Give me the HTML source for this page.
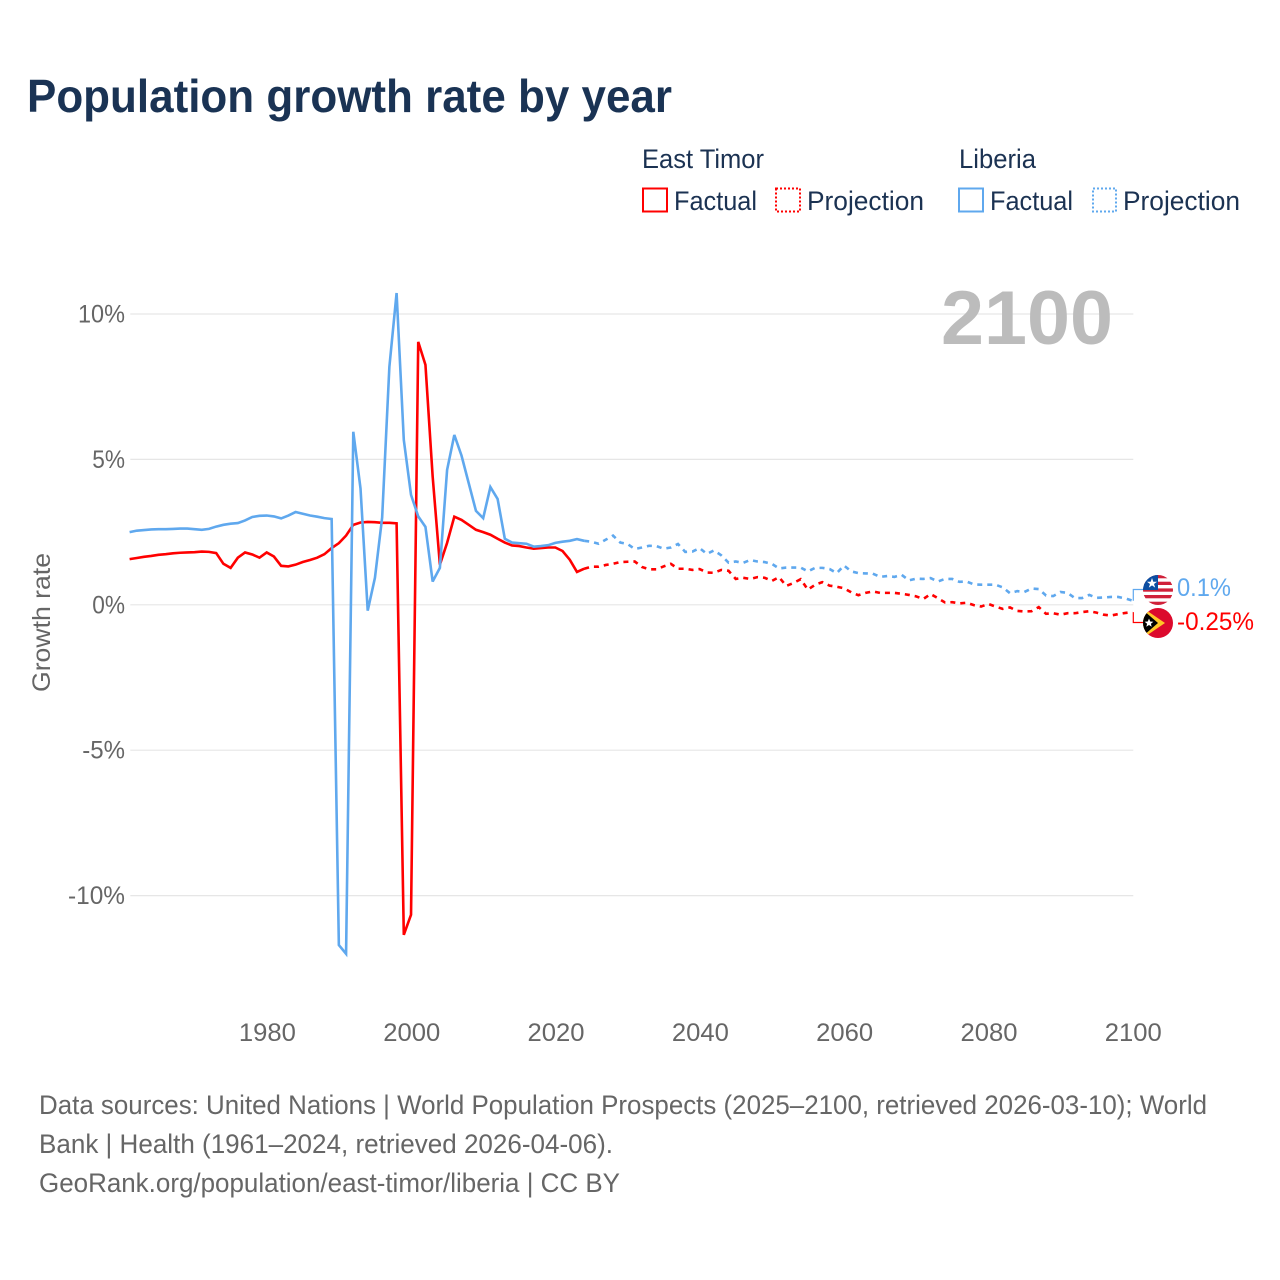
<!DOCTYPE html>
<html lang="en">
<head>
<meta charset="utf-8">
<title>Population growth rate by year</title>
<style>
html,body{margin:0;padding:0;background:#fff;}
svg{display:block;font-family:"Liberation Sans",Arial,sans-serif;}
</style>
</head>
<body>
<svg id="chart" xmlns="http://www.w3.org/2000/svg" width="1280" height="1280" viewBox="0 0 1280 1280">
<rect x="0" y="0" width="1280" height="1280" fill="#fff"/>
<text x="27" y="112" font-size="46" font-weight="700" fill="#1a3354" textLength="645" lengthAdjust="spacingAndGlyphs">Population growth rate by year</text>

<g font-size="27" fill="#1b3252">
<text x="642" y="168" textLength="122" lengthAdjust="spacingAndGlyphs">East Timor</text>
<text x="959" y="168" textLength="77" lengthAdjust="spacingAndGlyphs">Liberia</text>
<rect x="643" y="188.500" width="24" height="23" fill="none" stroke="#ff0000" stroke-width="2"/>
<text x="674" y="210" textLength="83" lengthAdjust="spacingAndGlyphs">Factual</text>
<rect x="776" y="188.500" width="24" height="23" fill="none" stroke="#ff0000" stroke-width="2" stroke-dasharray="2 2"/>
<text x="807" y="210" textLength="117" lengthAdjust="spacingAndGlyphs">Projection</text>
<rect x="959" y="188.500" width="24" height="23" fill="none" stroke="#5fa8ee" stroke-width="2"/>
<text x="990" y="210" textLength="83" lengthAdjust="spacingAndGlyphs">Factual</text>
<rect x="1093" y="188.500" width="23" height="23" fill="none" stroke="#5fa8ee" stroke-width="2" stroke-dasharray="2 2"/>
<text x="1123" y="210" textLength="117" lengthAdjust="spacingAndGlyphs">Projection</text>
</g>

<g id="grid"></g>
<text x="941" y="344" font-size="76" font-weight="700" fill="#bcbcbc" textLength="172" lengthAdjust="spacingAndGlyphs">2100</text>
<g id="yticks" font-size="25" fill="#666"></g>
<g id="xticks" font-size="25" fill="#666"></g>
<text transform="translate(50,692) rotate(-90)" font-size="25" fill="#666" textLength="139" lengthAdjust="spacingAndGlyphs">Growth rate</text>
<g id="series"></g>

<defs>
<clipPath id="clip-liberia"><circle cx="1158" cy="590" r="15"/></clipPath>
<clipPath id="clip-timor"><circle cx="1158" cy="623" r="15"/></clipPath>
</defs>
<g clip-path="url(#clip-liberia)">
<rect x="1143" y="575" width="30" height="30" fill="#fff"/>
<rect x="1143" y="575" width="30" height="3.300" fill="#d0213a"/>
<rect x="1143" y="581.700" width="30" height="3.300" fill="#d0213a"/>
<rect x="1143" y="588.400" width="30" height="3.300" fill="#d0213a"/>
<rect x="1143" y="595" width="30" height="3.300" fill="#d0213a"/>
<rect x="1143" y="601.700" width="30" height="3.300" fill="#d0213a"/>
<rect x="1143" y="575" width="15" height="15" fill="#0b4ea2"/>
<polygon points="1152,578 1153.300,581.700 1157,581.700 1154,584 1155.200,587.600 1152,585.400 1148.800,587.600 1150,584 1147,581.700 1150.700,581.700" fill="#fff"/>
</g>
<g clip-path="url(#clip-timor)">
<rect x="1143" y="608" width="30" height="30" fill="#dc0a2d"/>
<polygon points="1143,608 1165,623 1143,638" fill="#ffc726"/>
<polygon points="1143,610 1158,623 1143,636" fill="#000"/>
<polygon points="1149,618.500 1150.200,621.500 1153.400,621.700 1150.900,623.700 1151.700,626.800 1149,625 1146.300,626.800 1147.100,623.700 1144.600,621.700 1147.800,621.500" fill="#fff"/>
</g>
<text x="1177" y="596" font-size="25" fill="#5fa8ee" textLength="54" lengthAdjust="spacingAndGlyphs">0.1%</text>
<text x="1177" y="630" font-size="25" fill="#ff0000" textLength="77" lengthAdjust="spacingAndGlyphs">-0.25%</text>

<g font-size="27" fill="#666">
<text x="39" y="1114" textLength="1168" lengthAdjust="spacingAndGlyphs">Data sources: United Nations | World Population Prospects (2025–2100, retrieved 2026-03-10); World</text>
<text x="39" y="1153" textLength="574" lengthAdjust="spacingAndGlyphs">Bank | Health (1961–2024, retrieved 2026-04-06).</text>
<text x="39" y="1192" textLength="581" lengthAdjust="spacingAndGlyphs">GeoRank.org/population/east-timor/liberia | CC BY</text>
</g>
</svg>
<script>
const xTickYears = [1980, 2000, 2020, 2040, 2060, 2080, 2100];
const yTickValues = [10, 5, 0, -5, -10];
const factualStartYear = 1961;
const projectionStartYear = 2024;
const timorFactual = [1.57,1.61,1.65,1.68,1.72,1.74,1.77,1.79,1.80,1.81,1.83,1.82,1.78,1.41,1.27,1.62,1.80,1.73,1.62,1.80,1.66,1.34,1.32,1.38,1.47,1.54,1.62,1.74,1.95,2.12,2.38,2.75,2.83,2.85,2.84,2.82,2.82,2.80,-11.35,-10.66,9.04,8.25,4.41,1.38,2.13,3.03,2.92,2.75,2.58,2.50,2.41,2.27,2.14,2.04,2.02,1.97,1.93,1.95,1.97,1.97,1.85,1.55,1.13,1.24];
const liberiaFactual = [2.50,2.55,2.57,2.59,2.60,2.60,2.61,2.62,2.62,2.60,2.58,2.61,2.69,2.75,2.79,2.81,2.90,3.02,3.06,3.07,3.04,2.97,3.07,3.19,3.13,3.07,3.03,2.98,2.95,-11.7,-12.0,5.95,4.0,-0.2,0.93,3.0,8.18,10.72,5.67,3.78,3.04,2.68,0.8,1.27,4.64,5.84,5.13,4.18,3.23,2.98,4.05,3.64,2.27,2.14,2.12,2.10,2.0,2.02,2.05,2.13,2.17,2.2,2.26,2.2];
const timorProjection = [1.24,1.31,1.31,1.37,1.41,1.47,1.48,1.49,1.30,1.22,1.22,1.32,1.41,1.24,1.24,1.20,1.23,1.11,1.10,1.20,1.17,0.89,0.93,0.89,0.95,0.93,0.82,0.95,0.65,0.75,0.88,0.52,0.69,0.78,0.66,0.62,0.57,0.43,0.33,0.41,0.46,0.41,0.41,0.41,0.38,0.34,0.29,0.20,0.37,0.23,0.08,0.09,0.05,0.07,-0.01,-0.06,0.03,-0.06,-0.14,-0.09,-0.21,-0.23,-0.22,-0.08,-0.31,-0.29,-0.34,-0.29,-0.29,-0.25,-0.22,-0.27,-0.34,-0.37,-0.32,-0.28,-0.25];
const liberiaProjection = [2.2,2.17,2.10,2.24,2.38,2.14,2.09,1.92,1.97,2.03,2.02,1.93,1.97,2.09,1.82,1.83,1.95,1.75,1.87,1.70,1.45,1.49,1.44,1.54,1.49,1.47,1.41,1.25,1.28,1.28,1.28,1.15,1.27,1.27,1.23,1.09,1.35,1.15,1.09,1.08,1.07,0.96,0.99,0.96,1.03,0.84,0.90,0.89,0.92,0.80,0.89,0.89,0.79,0.80,0.70,0.69,0.69,0.69,0.60,0.40,0.47,0.44,0.56,0.54,0.32,0.30,0.44,0.41,0.23,0.23,0.34,0.24,0.25,0.27,0.27,0.22,0.14];

const SVG_NS = 'http://www.w3.org/2000/svg';
const TIMOR_COLOR = '#ff0000';
const LIBERIA_COLOR = '#5fa8ee';
function xScale(year) { return 129.6 + (year - 1961) * (1133 - 130) / 139; }
function tickX(year) { return 130.3 + (year - 1961) * (1133 - 130) / 139; }
function yScale(value) { return 604.8 - value * 29.08; }
function pointsFor(values, startYear) {
  return values.map(function (v, i) {
    return xScale(startYear + i).toFixed(2) + ',' + yScale(v).toFixed(2);
  }).join(' ');
}
function labelWidth(label) {
  let w = 0;
  for (const c of label) { w += c === '%' ? 18.5 : c === '-' ? 10 : 14.25; }
  return w;
}

const grid = document.getElementById('grid');
const yticks = document.getElementById('yticks');
const xticks = document.getElementById('xticks');
const seriesGroup = document.getElementById('series');

yTickValues.forEach(function (v) {
  const line = document.createElementNS(SVG_NS, 'line');
  
  
  line.setAttribute('x1', tickX(1961));
  line.setAttribute('x2', tickX(2100));
  line.setAttribute('y1', yScale(v));
  line.setAttribute('y2', yScale(v));
  line.setAttribute('stroke', '#e6e6e6');
  line.setAttribute('stroke-width', '1.2');
  grid.appendChild(line);

  const label = v + '%';
  const t = document.createElementNS(SVG_NS, 'text');
  
  
  t.setAttribute('x', 125 - labelWidth(label));
  t.setAttribute('y', yScale(v) + 8.5);
  t.setAttribute('textLength', labelWidth(label));
  t.setAttribute('lengthAdjust', 'spacingAndGlyphs');
  t.textContent = label;
  yticks.appendChild(t);
});

xTickYears.forEach(function (year) {
  const t = document.createElementNS(SVG_NS, 'text');
  
  
  t.setAttribute('x', tickX(year) - 28.5);
  t.setAttribute('y', 1041);
  t.setAttribute('textLength', '57');
  t.setAttribute('lengthAdjust', 'spacingAndGlyphs');
  t.textContent = String(year);
  xticks.appendChild(t);
});

function addSeries(name, values, startYear, color, dashed) {
  const p = document.createElementNS(SVG_NS, 'polyline');
  
  
  p.setAttribute('points', pointsFor(values, startYear));
  p.setAttribute('fill', 'none');
  p.setAttribute('stroke', color);
  p.setAttribute('stroke-width', '2.6');
  p.setAttribute('stroke-linejoin', 'miter');
  p.setAttribute('stroke-miterlimit', '3');
  if (dashed) { p.setAttribute('stroke-dasharray', '5 5'); }
  seriesGroup.appendChild(p);
}
addSeries('liberia-projection-line', liberiaProjection, projectionStartYear, LIBERIA_COLOR, true);
addSeries('east-timor-projection-line', timorProjection, projectionStartYear, TIMOR_COLOR, true);
addSeries('east-timor-factual-line', timorFactual, factualStartYear, TIMOR_COLOR, false);
addSeries('liberia-factual-line', liberiaFactual, factualStartYear, LIBERIA_COLOR, false);

function addConnector(name, value, flagY, color) {
  const p = document.createElementNS(SVG_NS, 'polyline');
  
  
  const x0 = tickX(2100);
  p.setAttribute('points', x0 + ',' + yScale(value) + ' ' + x0 + ',' + flagY + ' ' + (x0 + 10) + ',' + flagY);
  p.setAttribute('fill', 'none');
  p.setAttribute('stroke', color);
  p.setAttribute('stroke-width', '1.2');
  seriesGroup.appendChild(p);
}
addConnector('liberia-end-connector', liberiaProjection[liberiaProjection.length - 1], 589.5, LIBERIA_COLOR);
addConnector('east-timor-end-connector', timorProjection[timorProjection.length - 1], 622.5, TIMOR_COLOR);
</script>
</body>
</html>
